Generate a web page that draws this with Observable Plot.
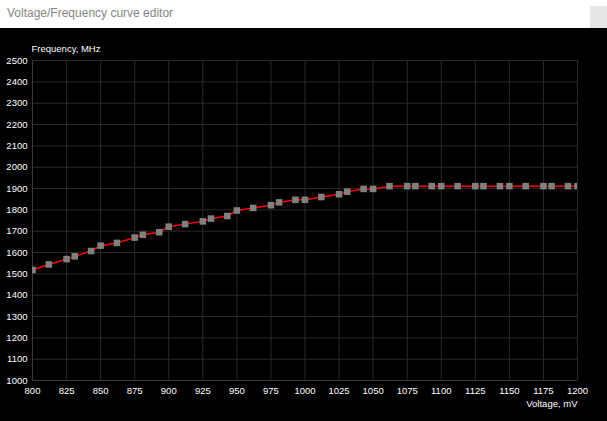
<!DOCTYPE html>
<html>
<head>
<meta charset="utf-8">
<script src="https://cdn.jsdelivr.net/npm/d3@7"></script>
<script src="https://cdn.jsdelivr.net/npm/@observablehq/plot@0.6"></script>
<style>
  html, body { margin: 0; padding: 0; background: #000; width: 607px; height: 421px; overflow: hidden; }
  #titlebar { position: relative; height: 28px; background: #fff; }
  #titlebar .t { position: absolute; left: 7px; top: 6px; font: 12px "Liberation Sans", Arial, sans-serif; color: #858585; }
  #titlebar .b { position: absolute; left: 590px; top: 6px; width: 17px; height: 22px; background: #e6e6e6; }
  #chart svg { display: block; }
</style>
</head>
<body>
<div id="titlebar"><span class="t">Voltage/Frequency curve editor</span><div class="b"></div></div>
<div id="chart"></div>
<script>
const voltages = [800, 812, 825, 831, 843, 850, 862, 875, 881, 893,
                  900, 912, 925, 931, 943, 950, 962, 975, 981, 993,
                  1000, 1012, 1025, 1031, 1043, 1050, 1062, 1075, 1081, 1093,
                  1100, 1112, 1125, 1131, 1143, 1150, 1162, 1175, 1181, 1193, 1200];
const frequencies = [1518, 1544, 1569, 1582, 1607, 1632, 1645, 1670, 1683, 1695,
                     1721, 1733, 1746, 1759, 1771, 1797, 1809, 1822, 1835, 1847,
                     1847, 1860, 1873, 1885, 1898, 1898, 1911, 1911, 1911, 1911,
                     1911, 1911, 1911, 1911, 1911, 1911, 1911, 1911, 1911, 1911, 1911];
const xTicks = [800, 825, 850, 875, 900, 925, 950, 975, 1000, 1025, 1050, 1075, 1100, 1125, 1150, 1175, 1200];
const yTicks = [1000, 1100, 1200, 1300, 1400, 1500, 1600, 1700, 1800, 1900, 2000, 2100, 2200, 2300, 2400, 2500];
const xLabel = "Voltage, mV";
const yLabel = "Frequency, MHz";

const data = voltages.map((v, i) => ({v, f: frequencies[i]}));

const chart = Plot.plot({
  width: 607,
  height: 393,
  marginTop: 32,
  marginBottom: 41,
  marginLeft: 32,
  marginRight: 30,
  style: {background: "#000", color: "#fff", fontFamily: "'Liberation Sans', Arial, sans-serif", fontSize: "9.5px"},
  x: {domain: [800, 1200], ticks: xTicks, tickFormat: "d", tickSize: 0, tickPadding: 7, label: null},
  y: {domain: [1000, 2500], ticks: yTicks, tickFormat: "d", tickSize: 0, tickPadding: 5, label: null},
  marks: [
    Plot.ruleX(xTicks, {stroke: "#2a2a2a", strokeWidth: 1}),
    Plot.ruleY(yTicks, {stroke: "#2a2a2a", strokeWidth: 1}),
    Plot.ruleX([800], {stroke: "#3a3a3a"}),
    Plot.ruleY([1000], {stroke: "#3a3a3a"}),
    Plot.line(data, {x: "v", y: "f", stroke: "#ff0000", strokeWidth: 1.5, clip: true}),
    Plot.dot(data, {x: "v", y: "f", symbol: "square", r: 3.7, fill: "#808080", stroke: null, clip: true}),
    Plot.text([xLabel], {frameAnchor: "bottom-right", text: d => d, dy: 26, fill: "#fff"}),
    Plot.text([yLabel], {frameAnchor: "top-left", text: d => d, dy: -15.5, dx: -1, fill: "#fff"})
  ]
});
document.getElementById("chart").appendChild(chart);
</script>
</body>
</html>
